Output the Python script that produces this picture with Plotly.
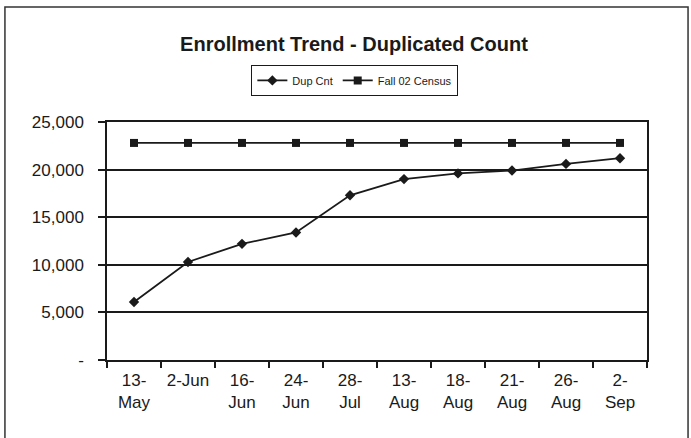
import plotly.graph_objects as go

# Reporting dates (category axis)
dates = ["13-<br>May", "2-Jun", "16-<br>Jun", "24-<br>Jun", "28-<br>Jul",
         "13-<br>Aug", "18-<br>Aug", "21-<br>Aug", "26-<br>Aug", "2-<br>Sep"]

# Duplicated enrollment count on each reporting date
dup_cnt = [6100, 10300, 12200, 13400, 17300, 19000, 19600, 19900, 20600, 21200]

# Fall 02 census benchmark (flat)
fall02_census = [22800] * len(dates)

# Y-axis ticks (accounting style, zero shown as a dash)
y_tickvals = [0, 5000, 10000, 15000, 20000, 25000]
y_ticktext = ["-", "5,000", "10,000", "15,000", "20,000", "25,000"]

FONT = "Liberation Sans, Arial, sans-serif"
INK = "#1a1a1a"

fig = go.Figure()
fig.add_trace(go.Scatter(
    x=dates, y=dup_cnt, name="Dup Cnt", mode="lines+markers",
    line=dict(color=INK, width=1.8),
    marker=dict(symbol="diamond", size=8, color=INK),
))
fig.add_trace(go.Scatter(
    x=dates, y=fall02_census, name="Fall 02 Census", mode="lines+markers",
    line=dict(color=INK, width=1.8),
    marker=dict(symbol="square", size=8, color=INK),
))

fig.update_layout(
    width=691, height=438,
    margin=dict(l=107, r=44, t=122, b=78),
    paper_bgcolor="white", plot_bgcolor="white",
    font=dict(family=FONT, color=INK),
    title=dict(
        text="<b>Enrollment Trend - Duplicated Count</b>",
        font=dict(family=FONT, size=20, color=INK),
        x=354 / 691, xanchor="center", xref="container",
        y=1 - 44 / 438, yanchor="middle", yref="container",
    ),
    showlegend=True,
    legend=dict(
        orientation="h", x=0.459, xanchor="center", y=1.24, yanchor="top",
        bordercolor=INK, borderwidth=1, bgcolor="white",
        font=dict(family=FONT, size=11, color=INK),
        itemwidth=30, tracegroupgap=0,
    ),
    shapes=[dict(
        type="rect", xref="paper", yref="paper",
        x0=-0.189, x1=1.076, y0=-0.45, y1=1.483,
        line=dict(color="#333", width=1.5), fillcolor="rgba(0,0,0,0)",
        layer="below",
    )],
)

fig.update_xaxes(
    type="category", tickson="boundaries",
    ticks="outside", ticklen=6, tickcolor=INK, tickwidth=1.5,
    showline=True, linecolor=INK, linewidth=1.5, mirror=True,
    showgrid=False, tickfont=dict(family=FONT, size=17, color=INK),
    range=[-0.5, len(dates) - 0.5], ticklabelstandoff=4,
)
fig.update_yaxes(
    range=[0, 25000], tickvals=y_tickvals, ticktext=y_ticktext,
    ticks="outside", ticklen=7, tickcolor=INK, tickwidth=1.5,
    showline=True, linecolor=INK, linewidth=1.5, mirror=True,
    showgrid=True, gridcolor=INK, gridwidth=1.5, zeroline=False,
    tickfont=dict(family=FONT, size=17, color=INK),
    ticklabelstandoff=11,
)

fig.write_html("out.html")
